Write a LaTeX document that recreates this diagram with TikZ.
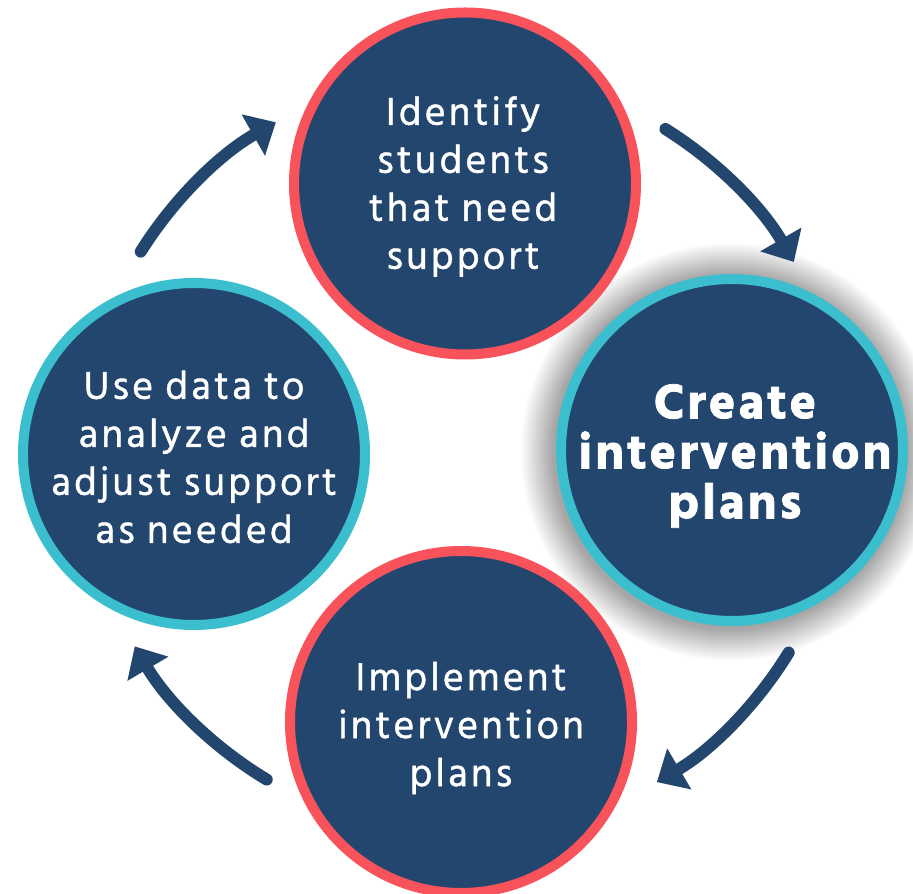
\documentclass[tikz,border=0pt]{standalone}
\usepackage{fontspec}
\usetikzlibrary{arrows.meta,calc}
\newfontfamily\bodyfont[LetterSpace=8,FakeBold=1]{Hind Siliguri}
\newfontfamily\boldfont[LetterSpace=6,FakeBold=1.5]{Hind Siliguri Bold}
\definecolor{navy}{HTML}{23466F}
\definecolor{ringred}{HTML}{F8525B}
\definecolor{ringteal}{HTML}{3BBFCF}
\tikzset{
  disc/.style={circle, fill=navy, line width=10pt, minimum size=342pt, inner sep=0pt},
  redring/.style={disc, draw=ringred},
  tealring/.style={disc, draw=ringteal},
  label/.style={text=white, align=center, font=\bodyfont\fontsize{40}{48}\selectfont},
  boldlabel/.style={text=white, align=center, font=\boldfont\fontsize{50}{50}\selectfont},
  arr/.style={draw=navy, line width=12pt, line cap=round, -{Triangle[length=26pt,width=46pt]}}
}
\begin{document}
\begin{tikzpicture}[x=1pt,y=1pt]
\useasboundingbox (0,0) rectangle (913,894);
\clip (0,0) rectangle (913,894);
\fill[white] (0,0) rectangle (913,894);
\coordinate (c) at (463,441);
% soft shadow of the right circle
\foreach \i in {1,...,30} {
  \fill[black, opacity=0.012] (730,442) circle ({176+\i*1.1});
}
\node[tealring] (create) at (732,444) {};
\node[redring] (identify) at (465,710.5) {};
\node[tealring] (usedata) at (194,440) {};
\node[redring] (implement) at (461,172) {};
\node[label] at ($(identify)+(-2,-3)$) {Identify\\students\\that need\\support};
\node[boldlabel] at ($(create)+(3,-6)$) {Create\\intervention\\plans};
\node[label] at ($(usedata)+(0,-3)$) {Use data to\\analyze and\\adjust support\\as needed};
\node[label] at ($(implement)+(0,-6)$) {Implement\\intervention\\plans};
% arrows
\coordinate (t1) at ($(c)+(148:380)$);
\coordinate (t2) at ($(c)+(58:382)$);
\coordinate (t3) at ($(c)+(-31.5:382)$);
\coordinate (t4) at ($(c)+(-121:381)$);
\draw[arr] (t1) arc[start angle=148, end angle=119.5, radius=380];
\draw[arr] (t2) arc[start angle=58, end angle=30, radius=382];
\draw[arr] (t3) arc[start angle=-31.5, end angle=-59.5, radius=382];
\draw[arr] (t4) arc[start angle=-121, end angle=-149.5, radius=381];
\end{tikzpicture}
\end{document}
